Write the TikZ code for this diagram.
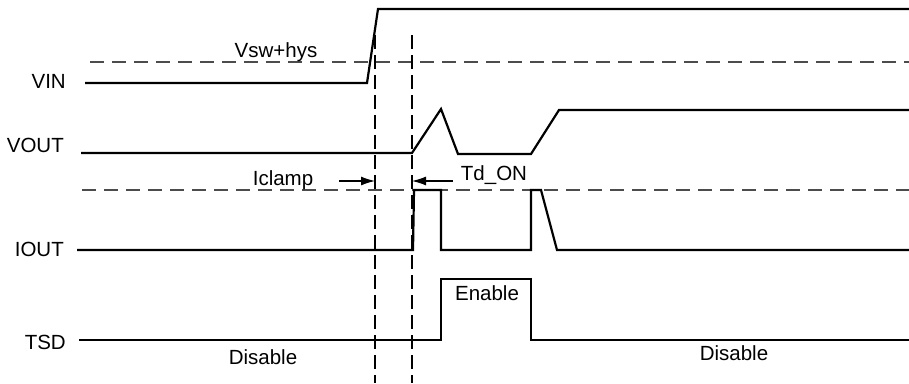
\documentclass[tikz,border=0pt]{standalone}
\usepackage{fontspec}
\setmainfont{Liberation Sans}
\usetikzlibrary{arrows.meta}
\begin{document}
\begin{tikzpicture}[x=1pt,y=-1pt,
  wave/.style={line width=2.2pt,line join=miter},
  hdash/.style={line width=1.3pt,draw=black!70,dash pattern=on 14pt off 8pt},
  vdash/.style={line width=1.2pt,draw=black,dash pattern=on 14pt off 6pt},
  lbl/.style={font=\fontsize{20.5}{24}\selectfont,inner sep=0pt,anchor=base},
  sig/.style={lbl,anchor=base east},
  dimarrow/.style={line width=1.2pt,-{Latex[length=14pt,width=9pt]}}]
\useasboundingbox (0,0) rectangle (909,383);
% threshold lines
\coordinate (h1a) at (90,62); \coordinate (h1b) at (909,62);
\coordinate (h2a) at (82,190); \coordinate (h2b) at (909,190);
\draw[hdash] (h1a) -- (h1b);
\draw[hdash] (h2a) -- (h2b);
% vertical markers
\coordinate (v1t) at (375,35); \coordinate (v1b) at (375,383);
\coordinate (v2t) at (412,35); \coordinate (v2b) at (412,383);
\draw[vdash] (v1t) -- (v1b);
\draw[vdash] (v2t) -- (v2b);
% labels
\node[sig] (vin) at (66,88) {VIN};
\node[sig] (vout) at (64,152) {VOUT};
\node[sig] (iout) at (64,256) {IOUT};
\node[sig] (tsd) at (66,349) {TSD};
\node[lbl] (vsw) at (276,57) {Vsw+hys};
\node[lbl] (iclamp) at (283,185) {Iclamp};
\node[lbl] (tdon) at (494,180) {Td\_ON};
\node[lbl] (en) at (487,300) {Enable};
\node[lbl] (dis1) at (263,364) {Disable};
\node[lbl] (dis2) at (734,360) {Disable};
% VIN
\coordinate (a0) at (85,83); \coordinate (a1) at (367,83);
\coordinate (a2) at (378,9); \coordinate (a3) at (909,9);
\draw[wave] (a0) -- (a1) -- (a2) -- (a3);
% VOUT
\coordinate (b0) at (81,153); \coordinate (b1) at (412,153);
\coordinate (b2) at (441,109); \coordinate (b3) at (458,154);
\coordinate (b4) at (531,154); \coordinate (b5) at (559,110);
\coordinate (b6) at (909,110);
\draw[wave] (b0) -- (b1) -- (b2) -- (b3) -- (b4) -- (b5) -- (b6);
% IOUT
\coordinate (c0) at (77,250); \coordinate (c1) at (413,250);
\coordinate (c2) at (414,190); \coordinate (c3) at (441,190);
\coordinate (c4) at (441,250); \coordinate (c5) at (531,250);
\coordinate (c6) at (531,190); \coordinate (c7) at (541,190);
\coordinate (c8) at (557,250); \coordinate (c9) at (909,250);
\draw[wave] (c0) -- (c1) -- (c2) -- (c3) -- (c4) -- (c5) -- (c6) -- (c7) -- (c8) -- (c9);
% TSD
\coordinate (d0) at (79,340); \coordinate (d1) at (441,340);
\coordinate (d2) at (441,279); \coordinate (d3) at (531,279);
\coordinate (d4) at (531,340); \coordinate (d5) at (909,340);
\draw[wave] (d0) -- (d1) -- (d2) -- (d3) -- (d4) -- (d5);
% dimension arrows
\coordinate (ia) at (339,181); \coordinate (ib) at (375,181);
\coordinate (ta) at (453,181); \coordinate (tb) at (412,181);
\draw[dimarrow] (ia) -- (ib);
\draw[dimarrow] (ta) -- (tb);
\end{tikzpicture}
\end{document}
